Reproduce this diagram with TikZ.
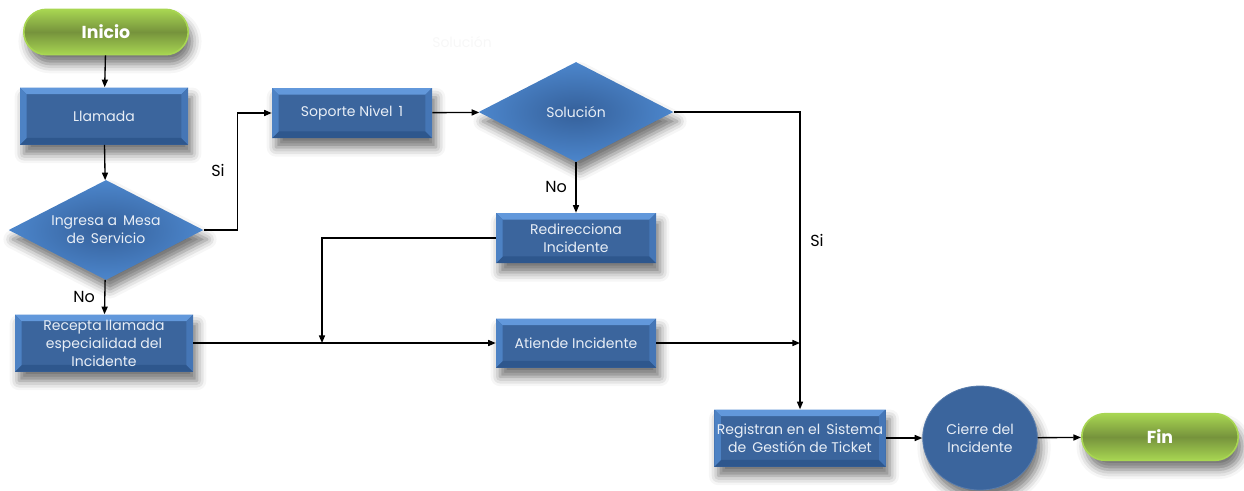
\documentclass[tikz,border=0pt]{standalone}
\usepackage{fontspec}
\setmainfont{Poppins}
\usepackage{xcolor}
\usepackage{tikz}
\usetikzlibrary{arrows.meta, positioning, shapes.geometric, shapes.misc, shadows.blur}

\definecolor{boxface}{HTML}{3B659D}
\definecolor{bevtop}{HTML}{6298DB}
\definecolor{bevleft}{HTML}{4D82C4}
\definecolor{bevright}{HTML}{4576B6}
\definecolor{bevbottom}{HTML}{2E578D}
\definecolor{diaminner}{HTML}{35609A}
\definecolor{diamouter}{HTML}{4C86CC}
\definecolor{termdark}{HTML}{76933C}
\definecolor{termlight}{HTML}{A8D652}
\definecolor{boxtext}{HTML}{E8EEF6}

\begin{document}
\begin{tikzpicture}[
    x=0.75pt, y=-0.75pt,
    font=\fontsize{10.5}{13.5}\selectfont,
    shade/.style={blur shadow={shadow xshift=3pt, shadow yshift=-7pt, shadow blur radius=7pt, shadow opacity=55}},
    bevel/.style={path picture={
        \path (path picture bounding box.north west) coordinate (pnw)
              (path picture bounding box.north east) coordinate (pne)
              (path picture bounding box.south east) coordinate (pse)
              (path picture bounding box.south west) coordinate (psw);
        \fill[bevtop] (pnw) -- (pne) -- ([shift={(-5pt,-5pt)}]pne) -- ([shift={(5pt,-5pt)}]pnw) -- cycle;
        \fill[bevbottom] (psw) -- (pse) -- ([shift={(-5pt,5pt)}]pse) -- ([shift={(5pt,5pt)}]psw) -- cycle;
        \fill[bevleft] (pnw) -- (psw) -- ([shift={(5pt,5pt)}]psw) -- ([shift={(5pt,-5pt)}]pnw) -- cycle;
        \fill[bevright] (pne) -- (pse) -- ([shift={(-5pt,5pt)}]pse) -- ([shift={(-5pt,-5pt)}]pne) -- cycle;
    }},
    process/.style={rectangle, fill=boxface, bevel, shade, text=boxtext, align=center, inner sep=2pt, minimum width=120pt, minimum height=37.5pt},
    decision/.style={diamond, inner color=diaminner, outer color=diamouter, shade, text=boxtext, align=center, inner sep=0pt, aspect=1.95, minimum width=146pt, minimum height=75pt},
    terminal/.style={rounded rectangle, top color=termlight, bottom color=termlight, middle color=termdark, draw=termlight, line width=1.2pt, shade, text=white, font=\fontsize{13}{15}\selectfont\bfseries, minimum height=34pt},
    closing/.style={ellipse, fill=boxface, draw=boxface!85!white, line width=0.6pt, shade, text=boxtext, align=center, minimum width=86pt, minimum height=78pt},
    arrow/.style={-{Triangle[length=2mm, width=1.6mm]}, line width=1pt},
    lbl/.style={font=\fontsize{12}{14}\selectfont, text=black},
    ghost/.style={text=black!3}
]
\useasboundingbox (0,0) rectangle (1244,490);

% Start and first steps
\node[terminal, minimum width=130pt] (inicio) at (106,32) {Inicio};
\node[process, minimum width=126pt, minimum height=42.75pt] (llamada) at (104,116) {Llamada};
\node[decision] (ingresa) at (106,230) {Ingresa a\, Mesa\\de\, Servicio};
\node[process, minimum width=133.5pt, minimum height=42.75pt] (recepta) at (104,343) {Recepta llamada\\especialidad del\\Incidente};

% Level 1 support
\node[process] (soporte) at (352,113) {Soporte Nivel\, 1};
\node[decision] (solucion) at (576,112) {Solución};
\node[ghost] (ghostsol) at (462,42) {Solución};
\node[process] (redirecciona) at (576,238) {Redirecciona\\Incidente};
\node[process, minimum height=36.75pt] (atiende) at (576,343) {Atiende Incidente};

% Closing
\node[process, minimum width=128pt, minimum height=42.75pt] (registran) at (800,438) {Registran en el\, Sistema\\de\, Gestión de Ticket};
\node[closing] (cierre) at (980,438) {Cierre del\\Incidente};
\node[terminal, minimum width=124pt, minimum height=35pt] (fin) at (1160,437) {Fin};

% Join points
\coordinate (merge1) at (322,343);
\coordinate (merge2) at (800,343);

% Connectors
\draw[arrow] (inicio) -- (llamada);
\draw[arrow] (llamada) -- (ingresa);
\draw[arrow] (ingresa.east) -- ++(34,0) |- (soporte.west);
\node[lbl] (si1) at (218,170) {Si};
\draw[arrow] (ingresa) -- (recepta);
\node[lbl] (no1) at (84,297) {No};
\draw[arrow] (recepta.east) -- (atiende.west);
\draw[arrow] (soporte) -- (solucion);
\draw[arrow] (solucion) -- (redirecciona);
\node[lbl] (no2) at (556,187) {No};
\draw[arrow] (redirecciona.west) -| (merge1);
\draw[arrow] (solucion.east) -| (registran.north);
\node[lbl] (si2) at (817,240) {Si};
\draw[arrow] (atiende.east) -- (merge2);
\draw[arrow] (registran) -- (cierre);
\draw[arrow] (cierre) -- (fin);

\end{tikzpicture}
\end{document}
